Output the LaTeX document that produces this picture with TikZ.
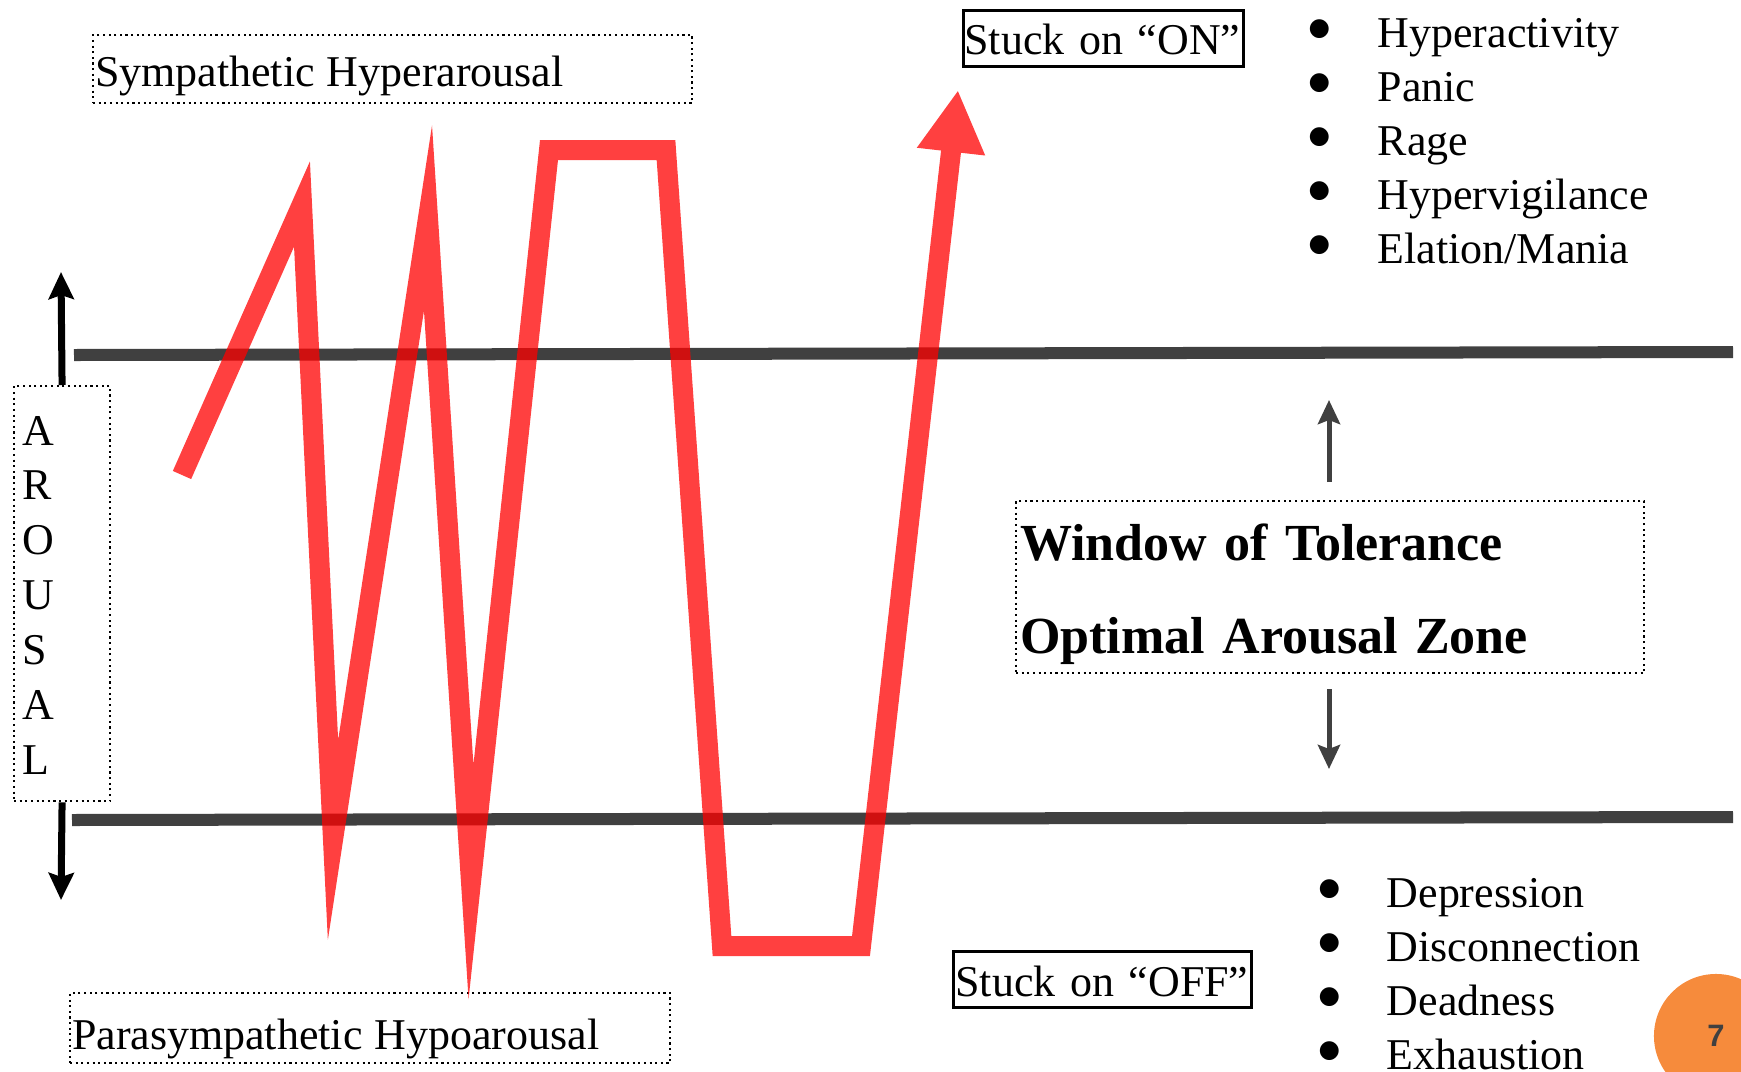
\documentclass[tikz,border=0pt]{standalone}
\usepackage{fontspec}
\setmainfont{Liberation Serif}
\newfontfamily\pagefont{Liberation Sans}
\newfontfamily\markfont{DejaVu Sans}
\usepackage{xcolor}
\usepackage{tikz}
\usetikzlibrary{arrows.meta}
\usetikzlibrary{positioning,calc}

\definecolor{zonegray}{HTML}{404040}
\definecolor{swingred}{HTML}{FF0000}
\definecolor{pageorange}{HTML}{F68B3C}

\newcommand{\dotmark}{\raisebox{0.12cm}{\markfont\fontsize{7}{8}\selectfont ●}}

\begin{document}
\begin{tikzpicture}[x=0.01cm,y=-0.01cm,
		txt/.style={font=\fontsize{12.5}{15}\selectfont},
		dotbox/.style={txt,draw,line width=0.6pt,dash pattern=on 0.6pt off 1pt,inner ysep=0pt,align=left,anchor=north west},
		stuckbox/.style={txt,draw,line width=0.8pt,inner ysep=0pt,align=left,anchor=north west},
		item/.style={txt,inner sep=0pt,anchor=base west},
		zone/.style={zonegray,line width=0.12cm},
		swing/.style={swingred,line width=0.2cm,line join=miter,miter limit=30,-{Triangle[width=0.64cm,length=0.62cm]}},
		wotarrow/.style={zonegray,line width=0.05cm,-{Stealth[width=0.22cm,length=0.24cm,inset=0.04cm]}},
		arousalarrow/.style={line width=0.07cm,-{Stealth[width=0.25cm,length=0.27cm,inset=0.04cm]}}]
			\useasboundingbox (0,0) rectangle (1741,1072);
			\clip (0,0) rectangle (1741,1072);
			% boxes
			\node[dotbox,inner xsep=0.02cm,text width=5.95cm,text height=0.51cm,text depth=0.17cm] (symp) at (92,34) {Sympathetic\hspace{0.12cm}Hyperarousal};
			\node[dotbox,inner xsep=0.02cm,text width=5.96cm,text height=0.56cm,text depth=0.14cm] (para) at (69,992) {Parasympathetic\hspace{0.12cm}Hypoarousal};
			\node[dotbox,inner xsep=0.08cm,text width=0.80cm,text height=0.59cm,text depth=3.56cm,font=\fontsize{12.5}{15.6}\selectfont] (arousal) at (13,385) {A\\R\\O\\U\\S\\A\\L};
			\node[dotbox,inner xsep=0.04cm,text width=6.20cm,text height=0.59cm,text depth=1.13cm,font=\bfseries\fontsize{14.8}{26.5}\selectfont] (window) at (1015,500) {Window of Tolerance\\Optimal Arousal Zone};
			\node[stuckbox,inner xsep=0.01cm,text width=2.78cm,text height=0.44cm,text depth=0.12cm] (on) at (962,9) {Stuck on “ON”};
			\node[stuckbox,inner xsep=0.02cm,text width=2.94cm,text height=0.45cm,text depth=0.11cm] (off) at (952,950) {Stuck on “OFF”};
			% bullet lists
			\foreach \txt [count=\i] in {Hyperactivity,Panic,Rage,Hypervigilance,Elation/Mania}
				\node[item] (hyper\i) at (1308,{47+54*(\i-1)}) {\makebox[0.69cm][l]{\dotmark}\txt};
			\foreach \txt [count=\i] in {Depression,Disconnection,Deadness,Exhaustion}
				\node[item] (hypo\i) at (1318,{907+54*(\i-1)}) {\makebox[0.68cm][l]{\dotmark}\txt};
			\node[circle,fill=pageorange,minimum size=1.24cm,inner sep=0pt,text=zonegray,font=\pagefont\bfseries\fontsize{8.8}{10}\selectfont] (page) at (1716,1036) {7};
			% window limits
			\draw[zone] (74,355) -- (1733,352);
			\draw[zone] (72,820) -- (1733,817);
			% arrows
			\coordinate (arousaltop) at (61,272);
			\coordinate (arousalbot) at (61,900);
			\draw[arousalarrow] (arousal.north) -- (arousaltop);
			\draw[arousalarrow] (arousal.south) -- (arousalbot);
			\coordinate (upbase) at (1329,482);
			\coordinate (uptip) at (1329,400);
			\coordinate (downbase) at (1329,689);
			\coordinate (downtip) at (1329,769);
			\draw[wotarrow] (upbase) -- (uptip);
			\draw[wotarrow] (downbase) -- (downtip);
			% arousal swings
			\begin{scope}[transparency group,opacity=0.75]
				\draw[swing] (182,475) -- (302,204) -- (333,840) -- (428,218) -- (471,882)
					-- (549,150) -- (666,150) -- (722,946) -- (861,946) -- (958,90);
			\end{scope}
		\end{tikzpicture}
\end{document}
